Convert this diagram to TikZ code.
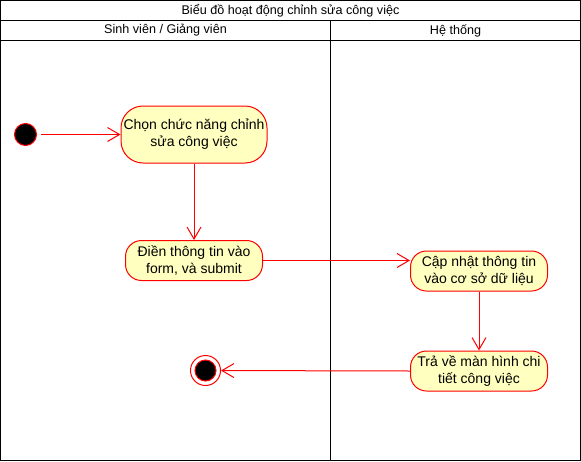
\documentclass[tikz,border=0pt]{standalone}
\usepackage{fontspec}
\setmainfont{Liberation Sans}
\usetikzlibrary{arrows.meta}
\definecolor{actfill}{HTML}{FFFFC0}
\begin{document}
\begin{tikzpicture}[x=1pt,y=-1pt,line width=1pt,
  act/.style={draw=red, fill=actfill, rounded corners=16pt, align=center, inner sep=0pt,
    font=\fontsize{14}{17}\selectfont, minimum height=40pt, minimum width=137pt},
  flow/.style={draw=red, -{Straight Barb[length=12pt,width=14pt]}},
  lbl/.style={font=\fontsize{12.6}{14}\selectfont}]
\useasboundingbox (-0.5,-0.5) rectangle (580.5,460.5);
\draw (0,0) rectangle (580,460);
\draw (0,20) -- (580,20);
\draw (0,40) -- (580,40);
\draw (330,20) -- (330,460);
\node[lbl] (title) at (290,10) {Biểu đồ hoạt động chỉnh sửa công việc};
\node[lbl] (lane1) at (165,30) {Sinh viên / Giảng viên};
\node[lbl] (lane2) at (455,30) {Hệ thống};

\node[circle, draw=red, fill=black, minimum size=22pt, inner sep=0pt] (start) at (25,134) {};
\node[act, minimum width=146pt, minimum height=57pt, rounded corners=22pt] (a1) at (193.5,134) {Chọn chức năng chỉnh\\sửa công việc};
\node[act] (a2) at (193.5,260) {Điền thông tin vào\\form, và submit};
\node[act] (a3) at (478.5,270.5) {Cập nhật thông tin\\vào cơ sở dữ liệu};
\node[act] (a4) at (478.5,370.5) {Trả về màn hình chi\\tiết công việc};
\node[circle, draw=red, fill=white, minimum size=30pt, inner sep=0pt] (end) at (205,370) {};
\node[circle, draw=red, fill=black, minimum size=21pt, inner sep=0pt] (endin) at (end) {};

\draw[flow, shorten <=4pt] (start) -- (a1);
\draw[flow] (a1) -- (a2);
\draw[flow] (a2.east) -- (a2.east -| a3.west);
\draw[flow] (a3) -- (a4);
\draw[flow] (a4.west) -- (end);
\end{tikzpicture}
\end{document}
